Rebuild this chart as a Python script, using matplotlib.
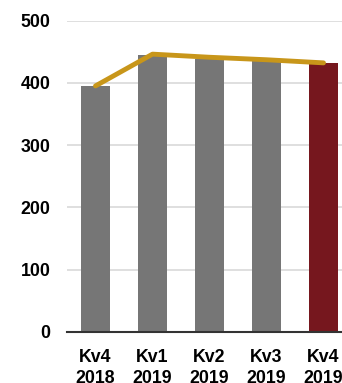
import matplotlib.pyplot as plt

plt.rcParams["font.family"] = ["Liberation Sans", "DejaVu Sans"]

quarters = ["Kv4\n2018", "Kv1\n2019", "Kv2\n2019", "Kv3\n2019", "Kv4\n2019"]
bar_values = [395, 444, 438, 435, 431]
line_values = [395, 446, 441, 437, 432]
bar_colors = ["#767676", "#767676", "#767676", "#767676", "#76171E"]

fig = plt.figure(figsize=(3.42, 3.83), dpi=100)
ax = fig.add_axes([67 / 342, 51 / 383, 285 / 342, 311.5 / 383])

x = range(len(quarters))
ax.bar(x, bar_values, width=0.51, color=bar_colors, zorder=2)
ax.plot(x, line_values, color="#C8961A", linewidth=3.5, solid_capstyle="round", zorder=3)

ax.set_xlim(-0.5, len(quarters) - 0.5)
ax.set_ylim(0, 500)
ax.set_yticks([0, 100, 200, 300, 400, 500])
ax.set_xticks(list(x))
ax.set_xticklabels(quarters, fontsize=12.8, fontweight="bold", linespacing=1.3)
ax.tick_params(axis="y", labelsize=12.8, length=0, pad=12)
ax.tick_params(axis="x", length=0, pad=12)
for lbl in ax.get_yticklabels():
    lbl.set_fontweight("bold")

ax.grid(axis="y", color="#D9D9D9", linewidth=1.2, zorder=0)
for side in ["top", "right", "left"]:
    ax.spines[side].set_visible(False)
ax.spines["bottom"].set_color("#333333")
ax.spines["bottom"].set_linewidth(1.5)
ax.spines["bottom"].set_zorder(4)

fig.savefig("out.png", dpi=100)
